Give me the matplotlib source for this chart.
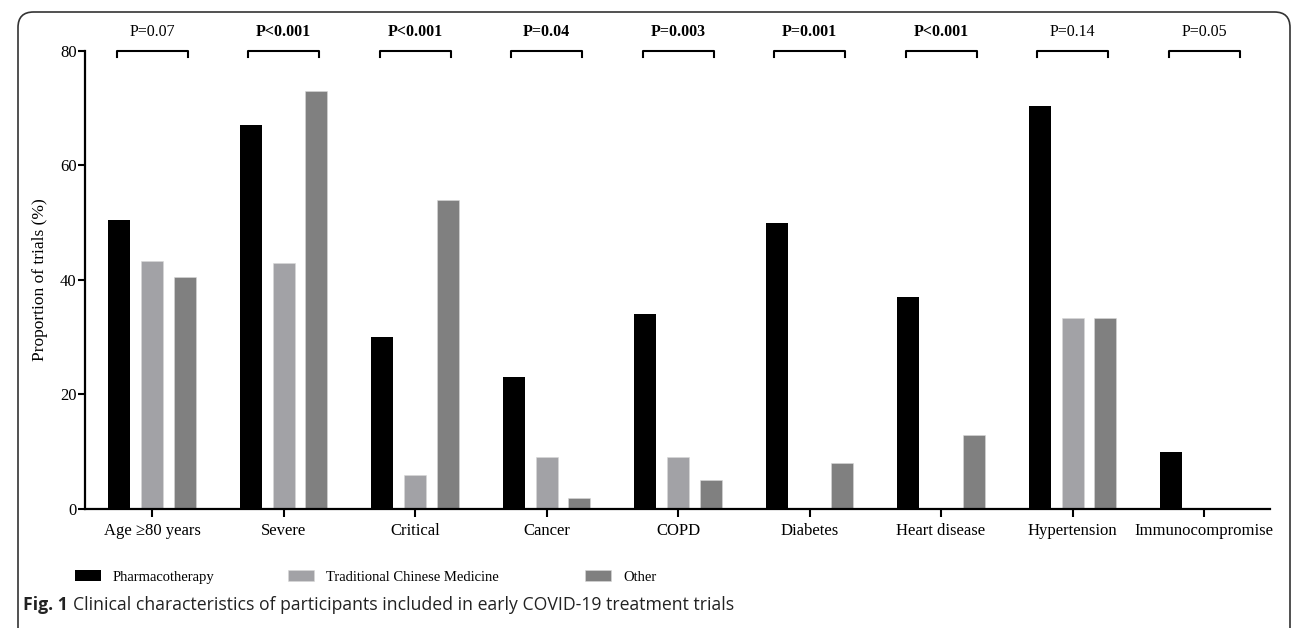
import matplotlib
matplotlib.use('Agg')
import matplotlib.pyplot as plt
from matplotlib.patches import FancyBboxPatch
import numpy as np

categories = ['Age \u226580 years', 'Severe', 'Critical', 'Cancer', 'COPD',
              'Diabetes', 'Heart disease', 'Hypertension', 'Immunocompromise']
pharma = [50.5, 67.0, 30.0, 23.0, 34.0, 50.0, 37.0, 70.4, 10.0]
tcm = [43.4, 43.0, 6.0, 9.0, 9.0, 0.0, 0.0, 33.3, 0.0]
other = [40.6, 73.0, 54.0, 2.0, 5.0, 8.0, 13.0, 33.3, 0.0]
p_labels = ['P=0.07', 'P<0.001', 'P<0.001', 'P=0.04', 'P=0.003',
            'P=0.001', 'P<0.001', 'P=0.14', 'P=0.05']
p_bold = [False, True, True, True, True, True, True, False, False]

series = [('Pharmacotherapy', pharma, '#000000'),
          ('Traditional Chinese Medicine', tcm, '#a2a2a6'),
          ('Other', other, '#808080')]

serif = ['Liberation Serif', 'DejaVu Serif']
sans = ['Open Sans', 'DejaVu Sans']

fig = plt.figure(figsize=(12.92, 6.28), dpi=100)
ax = fig.add_axes([0.0658, 0.1895, 0.917, 0.7293])

x = np.arange(len(categories))
w = 0.167
handles = []
for k, (name, vals, col) in enumerate(series):
    h = ax.bar(x + (k - 1) * 0.25, vals, width=w, color=col, label=name,
               edgecolor='#d8d8d8' if k else 'none', linewidth=0.4)
    handles.append(h)

ax.set_xlim(-0.51, 8.5)
ax.set_ylim(0, 80)
ax.set_yticks([0, 20, 40, 60, 80])
ax.set_xticks(x)
ax.set_xticklabels(categories, family=serif, fontsize=12)
for lab in ax.get_yticklabels():
    lab.set_family(serif)
    lab.set_fontsize(12)
ax.tick_params(axis='y', length=5, width=1.5, pad=1)
ax.tick_params(axis='x', length=6, width=1.5, pad=4)
for s in ['top', 'right']:
    ax.spines[s].set_visible(False)
for s in ['left', 'bottom']:
    ax.spines[s].set_linewidth(1.6)
ax.set_ylabel('Proportion of trials (%)', family=serif, fontsize=12.5, labelpad=9)

# significance brackets
for i, (lab, b) in enumerate(zip(p_labels, p_bold)):
    ax.plot([i - 0.27, i - 0.27, i + 0.27, i + 0.27], [79, 80, 80, 79],
            color='black', lw=1.5, clip_on=False)
    ax.text(i, 82, lab, ha='center', va='bottom', family=serif, fontsize=11.5,
            fontweight='bold' if b else 'normal')

# legend entries sit at fixed columns, like the original
legend_x = [75, 288, 585]
for h, (name, _, _), lx in zip(handles, series, legend_x):
    fig.legend(handles=[h], labels=[name], loc='center left',
               bbox_to_anchor=(lx / 1292, 1 - 577 / 628), frameon=False,
               prop={'family': serif, 'size': 10.5}, borderaxespad=0, borderpad=0,
               handlelength=1.8, handleheight=0.75, handletextpad=0.8)

cap_y = 1 - 605 / 628
t1 = fig.text(23 / 1292, cap_y, 'Fig. 1', fontsize=12.7, fontweight='bold',
              family=sans, va='center', color='#222222')
fig.canvas.draw()
bb = t1.get_window_extent()
fig.text((bb.x1 + 5) / 1292, cap_y,
         'Clinical characteristics of participants included in early COVID-19 treatment trials',
         fontsize=12.7, family=sans, va='center', color='#222222')

frame = FancyBboxPatch((18 / 1292, -0.05), (1290 - 18) / 1292, 1.05 - 12 / 628,
                       boxstyle='round,pad=0,rounding_size=0.012',
                       transform=fig.transFigure, fill=False, edgecolor='#333333',
                       linewidth=1.2, mutation_aspect=1292 / 628)
fig.patches.append(frame)

fig.savefig('out.png', dpi=100)
